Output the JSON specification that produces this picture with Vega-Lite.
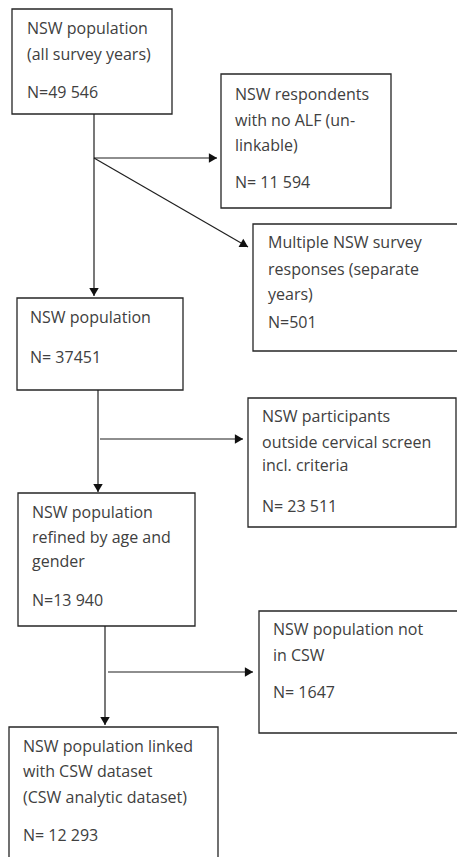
{
  "$schema": "https://vega.github.io/schema/vega-lite/v6.json",
  "width": 457,
  "height": 857,
  "padding": 0,
  "autosize": {"type": "none"},
  "background": "white",
  "config": {"view": {"stroke": null}},
  "datasets": {
    "boxes": [
      {"id": "b1", "x": 12, "x2": 172, "y": 9, "y2": 114},
      {"id": "b2", "x": 221, "x2": 391, "y": 74, "y2": 208},
      {"id": "b3", "x": 253, "x2": 475, "y": 224, "y2": 351},
      {"id": "b4", "x": 17, "x2": 183, "y": 298, "y2": 390},
      {"id": "b5", "x": 248, "x2": 456, "y": 398, "y2": 527},
      {"id": "b6", "x": 18, "x2": 195, "y": 493, "y2": 626},
      {"id": "b7", "x": 259, "x2": 475, "y": 611, "y2": 733},
      {"id": "b8", "x": 9, "x2": 218, "y": 727, "y2": 875}
    ],
    "lines": [
      {"x": 94, "y": 114, "x2": 94, "y2": 296, "dir": "down"},
      {"x": 94, "y": 158, "x2": 217, "y2": 158, "dir": "right"},
      {"x": 94, "y": 158, "x2": 248, "y2": 247, "dir": "diag"},
      {"x": 98, "y": 390, "x2": 98, "y2": 492, "dir": "down"},
      {"x": 100, "y": 439, "x2": 243, "y2": 439, "dir": "right"},
      {"x": 105, "y": 626, "x2": 105, "y2": 725, "dir": "down"},
      {"x": 108, "y": 672, "x2": 253, "y2": 672, "dir": "right"}
    ],
    "texts": [
      {"x": 27, "y": 29, "t": "NSW population"},
      {"x": 27, "y": 55, "t": "(all survey years)"},
      {"x": 27, "y": 93, "t": "N=49 546"},
      {"x": 235, "y": 95, "t": "NSW respondents"},
      {"x": 235, "y": 121, "t": "with no ALF (un-"},
      {"x": 235, "y": 146, "t": "linkable)"},
      {"x": 235, "y": 183, "t": "N= 11 594"},
      {"x": 268, "y": 243, "t": "Multiple NSW survey"},
      {"x": 268, "y": 270, "t": "responses (separate"},
      {"x": 268, "y": 295, "t": "years)"},
      {"x": 268, "y": 323, "t": "N=501"},
      {"x": 30, "y": 318, "t": "NSW population"},
      {"x": 30, "y": 358, "t": "N= 37451"},
      {"x": 262, "y": 417, "t": "NSW participants"},
      {"x": 262, "y": 443, "t": "outside cervical screen"},
      {"x": 262, "y": 466, "t": "incl. criteria"},
      {"x": 262, "y": 507, "t": "N= 23 511"},
      {"x": 32, "y": 513, "t": "NSW population"},
      {"x": 32, "y": 538, "t": "refined by age and"},
      {"x": 32, "y": 562, "t": "gender"},
      {"x": 32, "y": 601, "t": "N=13 940"},
      {"x": 273, "y": 630, "t": "NSW population not"},
      {"x": 273, "y": 656, "t": "in CSW"},
      {"x": 273, "y": 693, "t": "N= 1647"},
      {"x": 23, "y": 747, "t": "NSW population linked"},
      {"x": 23, "y": 772, "t": "with CSW dataset"},
      {"x": 23, "y": 798, "t": "(CSW analytic dataset)"},
      {"x": 23, "y": 836, "t": "N= 12 293"}
    ]
  },
  "layer": [
    {
      "data": {"name": "boxes"},
      "mark": {"type": "rect", "fill": "white", "stroke": "#262626", "strokeWidth": 1.3, "clip": true},
      "encoding": {
        "x": {"field": "x", "type": "quantitative", "scale": {"domain": [0, 457], "nice": false, "zero": false}, "axis": null},
        "x2": {"field": "x2"},
        "y": {"field": "y", "type": "quantitative", "scale": {"domain": [0, 857], "nice": false, "zero": false, "reverse": true}, "axis": null},
        "y2": {"field": "y2"}
      }
    },
    {
      "data": {"name": "lines"},
      "mark": {"type": "rule", "stroke": "#1f1f1f", "strokeWidth": 1.2},
      "encoding": {
        "x": {"field": "x", "type": "quantitative"},
        "x2": {"field": "x2"},
        "y": {"field": "y", "type": "quantitative"},
        "y2": {"field": "y2"}
      }
    },
    {
      "data": {"name": "lines"},
      "transform": [{"filter": "datum.dir == 'down'"}],
      "mark": {"type": "point", "shape": "triangle-down", "filled": true, "color": "#111111", "size": 90, "opacity": 1, "yOffset": -4},
      "encoding": {
        "x": {"field": "x2", "type": "quantitative"},
        "y": {"field": "y2", "type": "quantitative"}
      }
    },
    {
      "data": {"name": "lines"},
      "transform": [{"filter": "datum.dir == 'right'"}],
      "mark": {"type": "point", "shape": "triangle-right", "filled": true, "color": "#111111", "size": 90, "opacity": 1, "xOffset": -4},
      "encoding": {
        "x": {"field": "x2", "type": "quantitative"},
        "y": {"field": "y2", "type": "quantitative"}
      }
    },
    {
      "data": {"name": "lines"},
      "transform": [{"filter": "datum.dir == 'diag'"}],
      "mark": {"type": "point", "shape": "triangle-right", "filled": true, "color": "#111111", "size": 90, "opacity": 1, "angle": 30, "xOffset": -3.5, "yOffset": -2},
      "encoding": {
        "x": {"field": "x2", "type": "quantitative"},
        "y": {"field": "y2", "type": "quantitative"}
      }
    },
    {
      "data": {"name": "texts"},
      "mark": {"type": "text", "align": "left", "baseline": "middle", "font": "Open Sans", "fontSize": 16, "color": "#404040"},
      "encoding": {
        "x": {"field": "x", "type": "quantitative"},
        "y": {"field": "y", "type": "quantitative"},
        "text": {"field": "t"}
      }
    }
  ]
}
